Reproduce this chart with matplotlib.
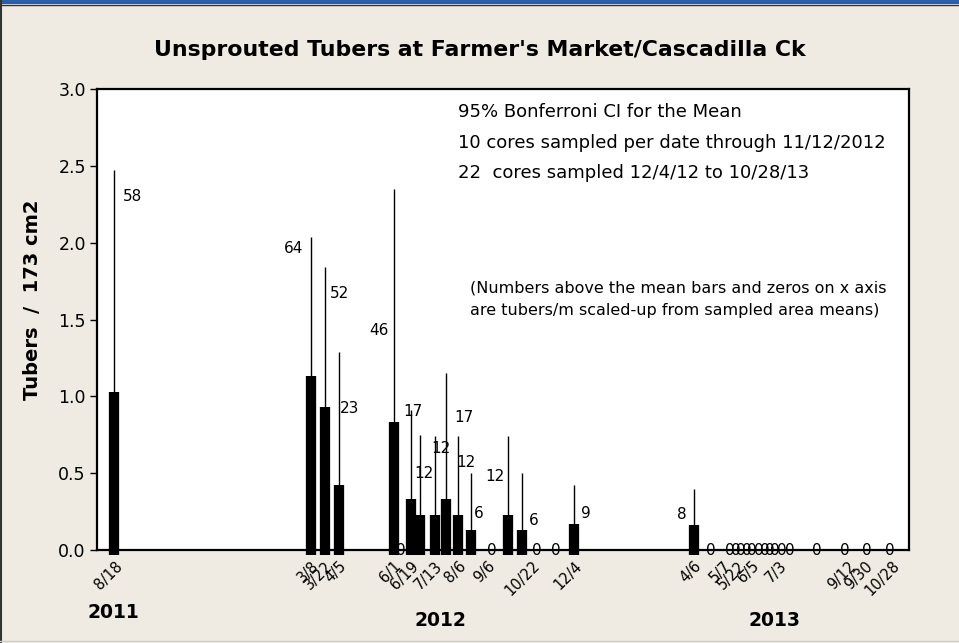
"""
Unsprouted tubers at Farmer's Market / Cascadilla Ck.
Interval plot: mean bar per sampled date plus upper 95% Bonferroni CI.
"""

import pandas as pd
import matplotlib
matplotlib.use("Agg")
import matplotlib.pyplot as plt
import matplotlib.dates as mdates
from matplotlib.patches import Rectangle
from matplotlib.lines import Line2D
from matplotlib.transforms import offset_copy, ScaledTranslation

# dates with a non-zero mean
bar_dates = ["2011-08-18", "2012-03-08", "2012-03-22", "2012-04-05", "2012-06-01",
             "2012-06-19", "2012-06-28", "2012-07-13", "2012-07-25", "2012-08-06",
             "2012-08-20", "2012-09-27", "2012-10-11", "2012-12-04", "2013-04-06"]
means = [1.03, 1.13, 0.93, 0.42, 0.83, 0.33, 0.23, 0.23, 0.33, 0.23,
         0.13, 0.23, 0.13, 0.17, 0.16]
upper_ci = [2.47, 2.04, 1.84, 1.29, 2.35, 0.91, 0.75, 0.74, 1.15, 0.74,
            0.50, 0.74, 0.50, 0.42, 0.40]
per_m2 = ["58", "64", "52", "23", "46", "17", "12", "12", "17", "12",
          "6", "12", "6", "9", "8"]

# dates where no tubers were found
zero_dates = ["2012-06-05", "2012-09-07", "2012-10-23", "2012-11-12",
              "2013-04-21", "2013-05-10", "2013-05-16", "2013-05-22", "2013-05-28",
              "2013-06-02", "2013-06-09", "2013-06-15", "2013-06-21", "2013-06-26",
              "2013-07-03", "2013-07-11", "2013-08-08", "2013-09-06", "2013-09-28",
              "2013-10-22"]

# dates written under the axis
tick_dates = ["2011-08-18", "2012-03-08", "2012-03-22", "2012-04-05", "2012-06-01",
              "2012-06-19", "2012-07-13", "2012-08-06", "2012-09-06", "2012-10-22",
              "2012-12-04", "2013-04-06", "2013-05-07", "2013-05-22", "2013-06-05",
              "2013-07-03", "2013-09-12", "2013-09-30", "2013-10-28"]
tick_labels = ["8/18", "3/8", "3/22", "4/5", "6/1", "6/19", "7/13", "8/6", "9/6",
               "10/22", "12/4", "4/6", "5/7", "5/22", "6/5", "7/3", "9/12", "9/30",
               "10/28"]

years = ["2011", "2012", "2013"]

BG = "#EFEBE2"
W, H = 959, 643


def graficar() -> None:
    fig = plt.figure(figsize=(W / 100, H / 100), dpi=100, facecolor=BG)
    ax = fig.add_axes([0.1011, 0.1446, 0.8467, 0.717])
    ax.set_facecolor("white")

    xb = mdates.date2num(pd.to_datetime(bar_dates))
    xz = mdates.date2num(pd.to_datetime(zero_dates))
    xt = mdates.date2num(pd.to_datetime(tick_dates))

    # thin CI line, then thick mean bar
    ax.vlines(xb, means, upper_ci, color="black", linewidth=1.0, zorder=3)
    ax.vlines(xb, -0.035, means, color="black", linewidth=7.4, zorder=4,
              clip_on=False, capstyle="butt")

    # numbers next to the bars (pixel offset, height)
    label_pos = [(18, 2.30), (-18, 1.96), (15, 1.67), (11, 0.92), (-15, 1.43),
                 (2, 0.90), (4, 0.50), (6, 0.66), (18, 0.86), (8, 0.57),
                 (7, 0.24), (-13, 0.48), (12, 0.19), (12, 0.24), (-12, 0.23)]
    for x, txt, (dx, y) in zip(xb, per_m2, label_pos):
        tr = offset_copy(ax.transData, fig=fig, x=dx, y=0, units="dots")
        ax.text(x, y, txt, transform=tr, ha="center", va="center", fontsize=11,
                zorder=5)

    for x in xz:
        tr = offset_copy(ax.transData, fig=fig, x=3, y=0, units="dots")
        ax.text(x, 0.0, "0", transform=tr, ha="center", va="center", fontsize=11,
                clip_on=False, zorder=5)

    ax.set_xlim(mdates.date2num(pd.Timestamp("2011-07-31")),
                mdates.date2num(pd.Timestamp("2013-11-14")))
    ax.set_ylim(0, 3.0)
    ax.set_yticks([0.0, 0.5, 1.0, 1.5, 2.0, 2.5, 3.0])
    ax.set_yticklabels([f"{v:.1f}" for v in ax.get_yticks()], fontsize=12.5)
    ax.set_xticks(xt)
    ax.set_xticklabels(tick_labels, fontsize=10.5, rotation=45, ha="right",
                       va="top", rotation_mode="anchor")
    shift = ScaledTranslation(-5 / 100, 0, fig.dpi_scale_trans)
    for lab in ax.get_xticklabels():
        lab.set_transform(lab.get_transform() + shift)
    ax.tick_params(axis="y", direction="out", length=5, width=1, pad=3)
    ax.tick_params(axis="x", direction="out", length=0, pad=6)
    for s in ax.spines.values():
        s.set_linewidth(1.6)

    ax.set_ylabel("Tubers  /  173 cm2", fontsize=14, fontweight="bold")
    ax.yaxis.set_label_coords(-0.068, 0.542)
    fig.text(0.5, 1 - 50 / H, "Unsprouted Tubers at Farmer's Market/Cascadilla Ck",
             ha="center", va="center", fontsize=15.8, fontweight="bold")

    info = ["95% Bonferroni CI for the Mean",
            "10 cores sampled per date through 11/12/2012",
            "22  cores sampled 12/4/12 to 10/28/13"]
    for txt, py in zip(info, [112, 143, 173]):
        fig.text(458 / W, 1 - py / H, txt, ha="left", va="center", fontsize=13)
    fig.text(470 / W, 1 - 288 / H,
             "(Numbers above the mean bars and zeros on x axis", fontsize=11.5,
             ha="left", va="center")
    fig.text(470 / W, 1 - 310 / H,
             "are tubers/m scaled-up from sampled area means)", fontsize=11.5,
             ha="left", va="center")

    for yr, (px, py) in zip(years, [(113, 612), (440, 620), (775, 620)]):
        fig.text(px / W, 1 - py / H, yr, ha="center", va="center",
                 fontsize=13.5, fontweight="bold")

    # window frame
    fig.patches.append(Rectangle((0, 1 - 4 / H), 1, 4 / H, transform=fig.transFigure,
                                 facecolor="#2B5EA6", edgecolor="none"))
    fig.lines.append(Line2D([0, 1], [1 - 4.5 / H] * 2, transform=fig.transFigure,
                            color="#333333", linewidth=1))
    fig.lines.append(Line2D([1 / W] * 2, [0, 1], transform=fig.transFigure,
                            color="#333333", linewidth=1.5))
    fig.lines.append(Line2D([0, 1], [2 / H] * 2, transform=fig.transFigure,
                            color="#D0D0D0", linewidth=1))

    fig.savefig("out.png", dpi=100, facecolor=BG)


if __name__ == "__main__":
    graficar()
